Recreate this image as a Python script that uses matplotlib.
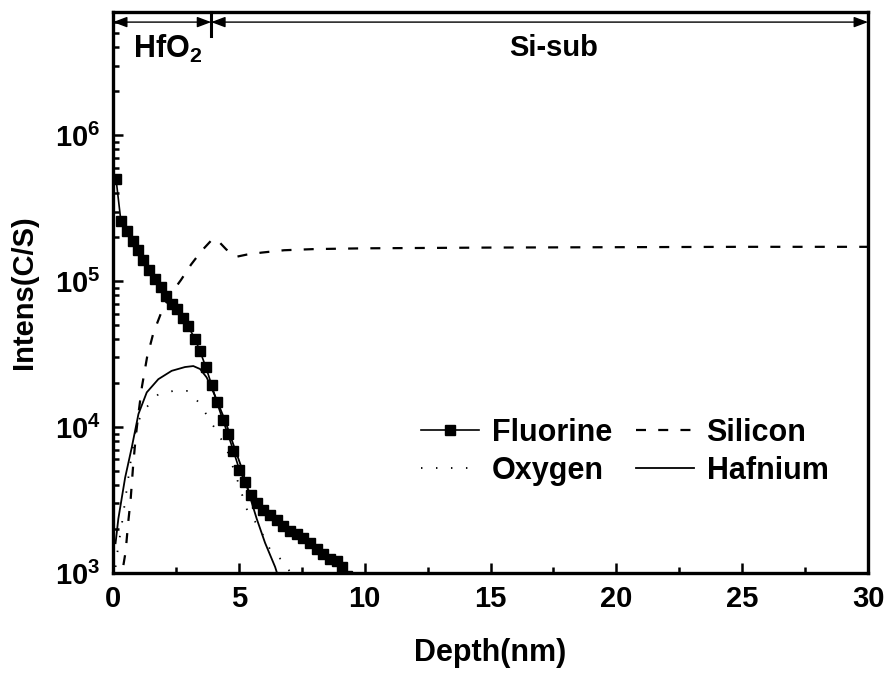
#!/usr/bin/env python3
"""SIMS depth profile of a HfO2 film on Si: F, Si, O and Hf intensities."""

import matplotlib
matplotlib.use("Agg")
import matplotlib.pyplot as plt
from matplotlib.ticker import LogLocator, NullFormatter, MultipleLocator

plt.rcParams["font.family"] = ["Liberation Sans", "DejaVu Sans"]
plt.rcParams["mathtext.fontset"] = "custom"
plt.rcParams["mathtext.rm"] = "Liberation Sans"
plt.rcParams["mathtext.bf"] = "Liberation Sans:bold"

# values
fluorine_depth = [0.12, 0.31, 0.57, 0.78, 1.01, 1.21, 1.44, 1.67, 1.89, 2.11,
                  2.33, 2.56, 2.79, 2.99, 3.26, 3.46, 3.69, 3.92, 4.12, 4.36,
                  4.56, 4.78, 5.02, 5.24, 5.48, 5.71, 5.97, 6.24, 6.50, 6.77,
                  7.03, 7.30, 7.56, 7.83, 8.09, 8.36, 8.62, 8.89, 9.08, 9.30]
fluorine = [5.0e5, 2.6e5, 2.2e5, 1.9e5, 1.63e5, 1.39e5, 1.19e5, 1.04e5, 9.1e4, 7.9e4,
            7.0e4, 6.4e4, 5.6e4, 4.9e4, 4.0e4, 3.3e4, 2.57e4, 1.94e4, 1.49e4, 1.12e4,
            9.0e3, 6.9e3, 5.1e3, 4.2e3, 3.4e3, 3.0e3, 2.7e3, 2.5e3, 2.3e3, 2.1e3,
            1.95e3, 1.85e3, 1.75e3, 1.6e3, 1.45e3, 1.34e3, 1.25e3, 1.2e3, 1.1e3, 9.5e2]

silicon_depth = [0.3, 0.4, 0.5, 0.6, 0.7, 0.8, 0.9, 1.0, 1.15, 1.35, 1.6, 1.9, 2.3,
                 2.7, 3.1, 3.5, 3.9, 4.1, 4.5, 4.9, 5.3, 5.9, 6.8, 8.0, 10.0, 15.0,
                 20.0, 25.0, 30.0]
silicon = [8e2, 1.1e3, 1.4e3, 2.2e3, 3.2e3, 5.5e3, 8.5e3, 1.2e4, 1.9e4, 3.0e4, 4.4e4,
           6.0e4, 8.2e4, 1.02e5, 1.3e5, 1.6e5, 1.9e5, 1.95e5, 1.65e5, 1.47e5, 1.52e5,
           1.57e5, 1.63e5, 1.66e5, 1.68e5, 1.70e5, 1.71e5, 1.72e5, 1.72e5]

oxygen_depth = [0.1, 0.2, 0.34, 0.5, 0.68, 0.94, 1.27, 1.8, 2.4, 2.99, 3.46,
                3.85, 4.18, 4.52, 4.91, 5.31, 5.84, 6.24, 6.83, 7.2]
oxygen = [1.1e3, 1.5e3, 2.1e3, 3.3e3, 5.5e3, 1.05e4, 1.33e4, 1.68e4, 1.77e4,
          1.77e4, 1.44e4, 1.11e4, 9.0e3, 7.05e3, 4.5e3, 2.75e3, 2.0e3, 1.45e3,
          1.17e3, 9.0e2]

hafnium_depth = [0.1, 0.21, 0.48, 0.74, 1.01, 1.34, 1.8, 2.33, 2.86, 3.19, 3.46,
                 3.72, 4.05, 4.45, 4.78, 5.11, 5.38, 5.71, 6.04, 6.44, 6.6]
hafnium = [1.6e3, 2.35e3, 4.5e3, 7.2e3, 1.23e4, 1.73e4, 2.13e4, 2.43e4, 2.58e4,
           2.62e4, 2.5e4, 2.19e4, 1.64e4, 1.11e4, 7.6e3, 5.25e3, 3.6e3, 2.35e3,
           1.61e3, 1.1e3, 9.0e2]

x_ticks = [0, 5, 10, 15, 20, 25, 30]
y_ticks = [1e3, 1e4, 1e5, 1e6]
y_tick_labels = [r"$\mathbf{10^{3}}$", r"$\mathbf{10^{4}}$",
                 r"$\mathbf{10^{5}}$", r"$\mathbf{10^{6}}$"]
interface_depth = 3.9

fig = plt.figure(figsize=(8.88, 6.78), dpi=100)
ax = fig.add_axes([0.1273, 0.1549, 0.8502, 0.8274])

l_f, = ax.plot(fluorine_depth, fluorine, color="black", lw=1.2, marker="s", ms=7,
               mec="black", mfc="black", label="Fluorine")
l_si, = ax.plot(silicon_depth, silicon, color="black", lw=1.6, dashes=(4.5, 5.5),
                label="Silicon")
l_o, = ax.plot(oxygen_depth, oxygen, color="black", lw=1.3, linestyle=(0, (0.8, 7.5)),
               label="Oxygen")
l_hf, = ax.plot(hafnium_depth, hafnium, color="black", lw=1.3, label="Hafnium")

ax.set_yscale("log")
ax.set_xlim(0, 30)
ax.set_ylim(1e3, 7e6)

ax.set_xticks(x_ticks)
ax.set_xticklabels([str(t) for t in x_ticks], fontsize=21, fontweight="bold")
ax.xaxis.set_minor_locator(MultipleLocator(2.5))
ax.set_yticks(y_ticks)
ax.set_yticklabels(y_tick_labels, fontsize=21)
ax.yaxis.set_minor_locator(LogLocator(base=10, subs=range(2, 10), numticks=20))
ax.yaxis.set_minor_formatter(NullFormatter())

ax.tick_params(which="both", direction="in", top=False, right=False, width=1.8)
ax.tick_params(which="major", length=7)
ax.tick_params(which="minor", length=4)
ax.tick_params(axis="x", pad=9)
ax.tick_params(axis="y", pad=9)
for sp in ax.spines.values():
    sp.set_linewidth(2.4)

ax.set_xlabel("Depth(nm)", fontsize=22, fontweight="bold", labelpad=18)
ax.set_ylabel("Intens(C/S)", fontsize=21, fontweight="bold", labelpad=12)

# layer markers along the top
arrow_y = 0.982
head = "<|-|>,head_length=0.85,head_width=0.32"
ax.annotate("", xy=(0, arrow_y), xytext=(interface_depth, arrow_y),
            xycoords=("data", "axes fraction"), textcoords=("data", "axes fraction"),
            arrowprops=dict(arrowstyle=head, color="black", lw=1.0,
                            shrinkA=0, shrinkB=0, mutation_scale=10))
ax.annotate("", xy=(interface_depth, arrow_y), xytext=(30, arrow_y),
            xycoords=("data", "axes fraction"), textcoords=("data", "axes fraction"),
            arrowprops=dict(arrowstyle=head, color="black", lw=1.0,
                            shrinkA=0, shrinkB=0, mutation_scale=10))
ax.plot([interface_depth, interface_depth], [1.0, 0.958], color="black", lw=2.2,
        transform=ax.get_xaxis_transform(), clip_on=False)
ax.text(0.78, 0.935, r"$\mathbf{HfO_2}$", transform=ax.get_xaxis_transform(),
        fontsize=22, ha="left", va="center")
ax.text(17.5, 0.935, "Si-sub", transform=ax.get_xaxis_transform(),
        fontsize=21, fontweight="bold", ha="center", va="center")

# column-major fill: row 1 Fluorine | Silicon, row 2 Oxygen | Hafnium
ax.legend([l_f, l_o, l_si, l_hf], ["Fluorine", "Oxygen", "Silicon", "Hafnium"],
          loc="center", bbox_to_anchor=(0.678, 0.216), ncol=2, frameon=False,
          prop=dict(size=22, weight="bold"), handlelength=1.9, handletextpad=0.4,
          columnspacing=0.8, labelspacing=0.25, borderpad=0, numpoints=1)

fig.savefig("out.png", dpi=100)
